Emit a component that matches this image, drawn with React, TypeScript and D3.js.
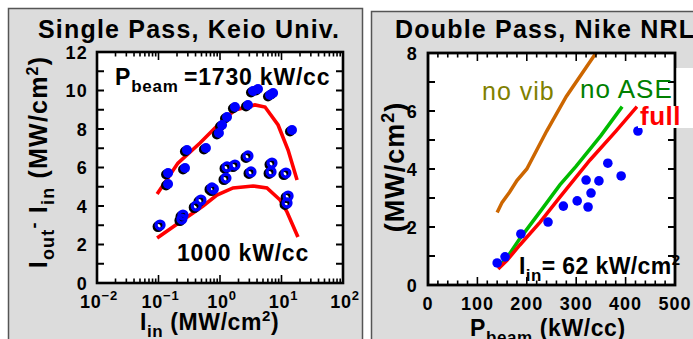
import React, { useEffect, useRef } from "react";
import * as d3 from "d3";

// ---- Single Pass, Keio Univ. (I_in in MW/cm2, gain in MW/cm2) ----
// Pbeam = 1730 kW/cc, filled dots
const keioHighIin = [0.143, 0.143, 0.27, 0.29, 0.59, 0.96, 1.08, 1.3, 1.75, 2.85, 3.44, 4.15, 6.5, 7.3, 14.8];
const keioHighGain = [5.14, 5.71, 5.97, 6.91, 7.01, 7.79, 8.21, 8.62, 9.14, 9.25, 9.97, 10.08, 9.77, 9.87, 7.95];
// Pbeam = 1000 kW/cc, open circles
const keioLowIin = [0.106, 0.24, 0.25, 0.41, 0.49, 0.74, 0.78, 1.25, 1.3, 1.75, 2.85, 3.19, 6.76, 7.0, 11.8, 12.3, 12.8];
const keioLowGain = [3.01, 3.32, 3.53, 4.0, 4.31, 4.94, 4.88, 5.45, 6.03, 6.13, 6.6, 5.77, 5.77, 6.23, 5.71, 4.16, 4.52];
// model curves
const keioHighCurveIin = [0.095, 0.207, 0.473, 0.927, 1.75, 3.7, 5.4, 8.8, 12.8, 17.9];
const keioHighCurveGain = [4.62, 6.23, 7.27, 8.21, 8.99, 9.25, 9.14, 8.21, 6.91, 5.35];
const keioLowCurveIin = [0.095, 0.224, 0.53, 0.89, 1.63, 3.44, 5.8, 9.5, 12.3, 18.5];
const keioLowCurveGain = [2.34, 3.17, 4.0, 4.57, 4.94, 5.04, 4.94, 4.31, 3.69, 2.39];

// ---- Double Pass, Nike NRL (Pbeam in kW/cc) ----
const nikePbeam = [140, 156, 188, 243, 274, 302, 324, 330, 320, 346, 364, 391, 425];
const nikeGain = [0.76, 0.97, 1.76, 2.17, 2.72, 2.9, 2.69, 3.17, 3.62, 3.59, 4.2, 3.76, 5.31];
const noVibPbeam = [140, 150, 165, 180, 200, 240, 280, 340];
const noVibGain = [2.5, 2.85, 3.2, 3.6, 4.0, 5.3, 6.5, 8.0];
const noAsePbeam = [142, 160, 186, 230, 267, 300, 350, 393];
const noAseGain = [0.62, 0.95, 1.6, 2.6, 3.45, 4.1, 5.15, 6.15];
const fullPbeam = [142, 160, 186, 227, 267, 328, 380, 423];
const fullGain = [0.55, 0.85, 1.38, 2.17, 3.03, 4.31, 5.3, 6.15];

// tick labels
const leftYTicks = [0, 2, 4, 6, 8, 10, 12];
const logExponents = ["\u22122", "\u22121", "0", "1", "2"];
const rightYTicks = [0, 2, 4, 6, 8];
const rightXTicks = [0, 100, 200, 300, 400, 500];

const FONT = "'Liberation Sans', Arial, Helvetica, sans-serif";

const App = () => {
  const ref = useRef(null);

  useEffect(() => {
    const svg = d3.select(ref.current);
    svg.selectAll("*").remove();

    // text with sub/superscripts
    const richText = (parent, x, y, parts, opts: any = {}) => {
      const text = parent
        .append("text")
        .attr("x", x)
        .attr("y", y)
        .attr("font-family", FONT)
        .attr("font-weight", opts.weight ?? "bold")
        .attr("fill", opts.fill ?? "#000")
        .attr("letter-spacing", opts.spacing ?? 1)
        .attr("text-anchor", opts.anchor ?? "start");
      if (opts.transform) text.attr("transform", opts.transform);
      let cur = 0;
      parts.forEach((p) => {
        const s = p.shift ?? 0;
        const ts = text.append("tspan").attr("font-size", p.size).text(p.t);
        if (p.x !== undefined) ts.attr("x", p.x);
        if (s !== cur) ts.attr("dy", s - cur);
        cur = s;
      });
      return text;
    };

    // panels
    svg.append("rect").attr("x", 8.5).attr("y", 8.5).attr("width", 354).attr("height", 345)
      .attr("fill", "#dcdcdc").attr("stroke", "#555").attr("stroke-width", 1.5);
    svg.append("rect").attr("x", 371.5).attr("y", 11.5).attr("width", 340).attr("height", 345)
      .attr("fill", "#dcdcdc").attr("stroke", "#555").attr("stroke-width", 1.5);

    // ================= left chart =================
    const L = { left: 97, right: 343, top: 52, bottom: 283 };
    const xL = d3.scaleLog().domain([0.01, 100]).range([L.left, L.right]);
    const yL = d3.scaleLinear().domain([0, 12]).range([L.bottom, L.top]);

    svg.append("rect").attr("x", L.left).attr("y", L.top)
      .attr("width", L.right - L.left).attr("height", L.bottom - L.top).attr("fill", "#fff");

    svg.append("clipPath").attr("id", "clipL").append("rect")
      .attr("x", L.left).attr("y", L.top).attr("width", L.right - L.left).attr("height", L.bottom - L.top);
    const gL = svg.append("g").attr("clip-path", "url(#clipL)");

    const lineL = d3.line<number>().x((d) => xL(d[0])).y((d) => yL(d[1]));
    [[keioHighCurveIin, keioHighCurveGain], [keioLowCurveIin, keioLowCurveGain]].forEach(([xs, ys]) => {
      gL.append("path")
        .attr("d", lineL(xs.map((v, i) => [v, ys[i]])))
        .attr("fill", "none").attr("stroke", "#ff0000").attr("stroke-width", 3.6);
    });

    // shadows
    keioLowIin.forEach((v, i) => {
      gL.append("circle").attr("cx", xL(v) - 2).attr("cy", yL(keioLowGain[i]) + 1.5).attr("r", 4)
        .attr("fill", "none").attr("stroke", "#000").attr("stroke-width", 3);
    });
    keioHighIin.forEach((v, i) => {
      gL.append("circle").attr("cx", xL(v) - 2).attr("cy", yL(keioHighGain[i]) + 1.5).attr("r", 5)
        .attr("fill", "#000");
    });
    keioLowIin.forEach((v, i) => {
      gL.append("circle").attr("cx", xL(v)).attr("cy", yL(keioLowGain[i])).attr("r", 4)
        .attr("fill", "none").attr("stroke", "#0000ff").attr("stroke-width", 3.2);
    });
    keioHighIin.forEach((v, i) => {
      gL.append("circle").attr("cx", xL(v)).attr("cy", yL(keioHighGain[i])).attr("r", 5)
        .attr("fill", "#0000ff");
    });

    // frame and ticks
    const axL = svg.append("g").attr("stroke", "#000");
    d3.range(0, 13).forEach((v) => {
      axL.append("line").attr("x1", L.left).attr("x2", L.left + 7).attr("y1", yL(v)).attr("y2", yL(v)).attr("stroke-width", 2);
      axL.append("line").attr("x1", L.right).attr("x2", L.right - 7).attr("y1", yL(v)).attr("y2", yL(v)).attr("stroke-width", 2);
    });
    xL.ticks().forEach((v) => {
      const major = Math.abs(Math.log10(v) - Math.round(Math.log10(v))) < 1e-6;
      const len = major ? 8 : 4.5;
      axL.append("line").attr("x1", xL(v)).attr("x2", xL(v)).attr("y1", L.bottom).attr("y2", L.bottom - len).attr("stroke-width", 1.6);
      axL.append("line").attr("x1", xL(v)).attr("x2", xL(v)).attr("y1", L.top).attr("y2", L.top + len).attr("stroke-width", 1.6);
    });
    svg.append("rect").attr("x", L.left).attr("y", L.top)
      .attr("width", L.right - L.left).attr("height", L.bottom - L.top)
      .attr("fill", "none").attr("stroke", "#000").attr("stroke-width", 2.6);

    leftYTicks.forEach((v) => {
      richText(svg, 88, yL(v) + 6.5, [{ t: String(v), size: 18 }], { anchor: "end", spacing: 1.2 });
    });
    logExponents.forEach((e, i) => {
      richText(svg, xL(Math.pow(10, i - 2)) + 2, 308, [
        { t: "10", size: 18 },
        { t: e, size: 13, shift: -8 },
      ], { anchor: "middle", spacing: 0.8 });
    });

    richText(svg, 38, 38, [{ t: "Single Pass, Keio Univ.", size: 25 }], { spacing: 1.2 });
    richText(svg, 115, 85, [
      { t: "P", size: 23 },
      { t: "beam", size: 17, shift: 7 },
      { t: "=1730 kW/cc", size: 23, x: 184 },
    ], { spacing: 0.8 });
    richText(svg, 177, 261, [{ t: "1000 kW/cc", size: 23 }], { spacing: 0.8 });
    richText(svg, 140, 330, [
      { t: "I", size: 23 },
      { t: "in", size: 17, shift: 7 },
      { t: " (MW/cm", size: 23 },
      { t: "2", size: 15, shift: -9 },
      { t: ")", size: 23 },
    ], { spacing: 0.6 });
    richText(svg, 0, 0, [
      { t: "I", size: 25 },
      { t: "out", size: 18, shift: 7 },
      { t: "-", size: 18, shift: -7 },
      { t: " I", size: 25 },
      { t: "in", size: 18, shift: 7 },
      { t: " (MW/cm", size: 25 },
      { t: "2", size: 16, shift: -9 },
      { t: ")", size: 25 },
    ], { anchor: "middle", transform: "translate(47,162) rotate(-90)", spacing: 1.2 });

    // ================= right chart =================
    const R = { left: 428, right: 675, top: 53, bottom: 285 };
    const xR = d3.scaleLinear().domain([0, 500]).range([R.left, R.right]);
    const yR = d3.scaleLinear().domain([0, 8]).range([R.bottom, R.top]);

    svg.append("rect").attr("x", R.left).attr("y", R.top)
      .attr("width", R.right - R.left).attr("height", R.bottom - R.top).attr("fill", "#fff");

    svg.append("clipPath").attr("id", "clipR").append("rect")
      .attr("x", R.left).attr("y", R.top).attr("width", R.right - R.left).attr("height", R.bottom - R.top);
    const gR = svg.append("g").attr("clip-path", "url(#clipR)");

    const lineR = d3.line<number>().x((d) => xR(d[0])).y((d) => yR(d[1]));
    [
      [noVibPbeam, noVibGain, "#cc6600"],
      [noAsePbeam, noAseGain, "#00bb00"],
      [fullPbeam, fullGain, "#ff0000"],
    ].forEach(([xs, ys, c]: any) => {
      gR.append("path")
        .attr("d", lineR(xs.map((v, i) => [v, ys[i]])))
        .attr("fill", "none").attr("stroke", c).attr("stroke-width", 3.5);
    });

    nikePbeam.forEach((v, i) => {
      gR.append("circle").attr("cx", xR(v)).attr("cy", yR(nikeGain[i])).attr("r", 4.8).attr("fill", "#0000ff");
    });

    const axR = svg.append("g").attr("stroke", "#000");
    d3.range(0, 9).forEach((v) => {
      axR.append("line").attr("x1", R.left).attr("x2", R.left + 7).attr("y1", yR(v)).attr("y2", yR(v)).attr("stroke-width", 2);
      axR.append("line").attr("x1", R.right).attr("x2", R.right - 7).attr("y1", yR(v)).attr("y2", yR(v)).attr("stroke-width", 2);
    });
    d3.range(0, 501, 20).forEach((v) => {
      const len = v % 100 === 0 ? 8 : 4.5;
      axR.append("line").attr("x1", xR(v)).attr("x2", xR(v)).attr("y1", R.bottom).attr("y2", R.bottom - len).attr("stroke-width", 1.6);
      axR.append("line").attr("x1", xR(v)).attr("x2", xR(v)).attr("y1", R.top).attr("y2", R.top + len).attr("stroke-width", 1.6);
    });
    svg.append("rect").attr("x", R.left).attr("y", R.top)
      .attr("width", R.right - R.left).attr("height", R.bottom - R.top)
      .attr("fill", "none").attr("stroke", "#000").attr("stroke-width", 2.8);

    rightYTicks.forEach((v) => {
      richText(svg, 418, yR(v) + 6.5, [{ t: String(v), size: 18 }], { anchor: "end", spacing: 1.2 });
    });
    rightXTicks.forEach((v) => {
      richText(svg, xR(v), 310, [{ t: String(v), size: 18 }], { anchor: "middle", spacing: 1 });
    });

    // white boxes behind the legend words
    svg.append("rect").attr("x", 676.5).attr("y", 68).attr("width", 20).attr("height", 38).attr("fill", "#fff");
    svg.append("rect").attr("x", 638).attr("y", 106).attr("width", 60).attr("height", 22).attr("fill", "#fff");

    richText(svg, 395, 37.5, [{ t: "Double Pass, Nike NRL", size: 25 }], { spacing: 1.2 });
    richText(svg, 482, 100, [{ t: "no vib", size: 25 }], { weight: "normal", fill: "#808000", spacing: 1 });
    richText(svg, 580, 98, [{ t: "no ASE", size: 26 }], { weight: "normal", fill: "#008000", spacing: 1 });
    richText(svg, 640, 125, [{ t: "full", size: 26 }], { fill: "#ff0000", spacing: 0.5 });
    richText(svg, 519, 274, [
      { t: "I", size: 23 },
      { t: "in", size: 17, shift: 7 },
      { t: "= 62 kW/cm", size: 23 },
      { t: "2", size: 15, shift: -9 },
    ], { spacing: 0.4 });
    richText(svg, 470, 336, [
      { t: "P", size: 23 },
      { t: "beam", size: 17, shift: 7 },
      { t: " (kW/cc)", size: 23 },
    ], { spacing: 0.6 });
    richText(svg, 0, 0, [
      { t: "(MW/cm", size: 27 },
      { t: "2", size: 18, shift: -10 },
      { t: ")", size: 27 },
    ], { anchor: "middle", transform: "translate(404,167) rotate(-90)", spacing: 1 });
  }, []);

  return (
    <svg
      ref={ref}
      width={693}
      height={339}
      style={{ position: "absolute", left: 0, top: 0, background: "#fff" }}
    />
  );
};

export default App;
